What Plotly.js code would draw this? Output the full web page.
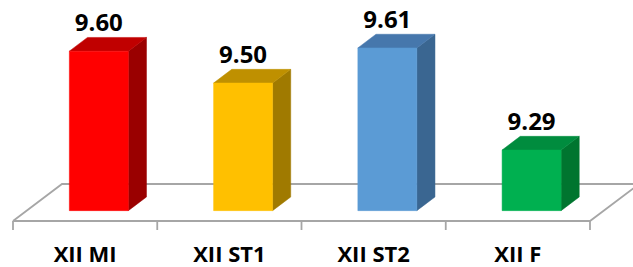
<!DOCTYPE html>
<html>
<head>
<meta charset="utf-8">
<script src="https://cdn.plot.ly/plotly-3.0.1.min.js"></script>
<style>
html,body{margin:0;padding:0;background:#fff;}
#chart{width:633px;height:267px;}
</style>
</head>
<body>
<div id="chart"></div>
<script>
// ---- data ----
const categories = ['XII MI', 'XII ST1', 'XII ST2', 'XII F'];
const values = [9.60, 9.50, 9.61, 9.29];
const valueLabels = ['9.60', '9.50', '9.61', '9.29'];
const frontColors = ['#FF0000', '#FFC000', '#5B9BD5', '#00B050'];
const topColors = ['#C00000', '#BF9000', '#4677AC', '#008C3E'];
const sideColors = ['#9A0000', '#A07A00', '#3A6691', '#00752F'];
const axisBase = 9.10;

// ---- pseudo-3D projection (depth z: 0 front .. 1 back) ----
const depthX = 0.3397;   // category units per unit depth
const depthY = 0.116;    // value units per unit depth
const halfW = 0.2045;
const zFront = 0.28, zBack = 0.65;
function P(c, z, v) { return [c + z * depthX, v + z * depthY]; }
function poly(pts, color, lineColor) {
  const xs = pts.map(p => p[0]), ys = pts.map(p => p[1]);
  xs.push(xs[0]); ys.push(ys[0]);
  return {
    type: 'scatter', mode: 'lines', x: xs, y: ys, fill: 'toself',
    fillcolor: color, line: {color: lineColor || color, width: lineColor ? 1.8 : 0.5},
    hoverinfo: 'skip', showlegend: false
  };
}

const traces = [];
const n = categories.length;
const left = -0.5, right = n - 0.5;
// floor
traces.push(poly([P(left, 0, axisBase), P(right, 0, axisBase), P(right, 1, axisBase), P(left, 1, axisBase)], '#FFFFFF', '#A6A6A6'));
// tick marks on front edge
const tx = [], ty = [];
for (let i = 0; i <= n; i++) {
  const b = left + i;
  tx.push(b, b, null);
  ty.push(axisBase, axisBase - 9 / 319, null);
}
traces.push({type: 'scatter', mode: 'lines', x: tx, y: ty, line: {color: '#A6A6A6', width: 1.8}, hoverinfo: 'skip', showlegend: false});

// bars
values.forEach((v, i) => {
  const c = i;
  traces.push(poly([P(c + halfW, zFront, axisBase), P(c + halfW, zBack, axisBase), P(c + halfW, zBack, v), P(c + halfW, zFront, v)], sideColors[i]));
  traces.push(poly([P(c - halfW, zFront, v), P(c + halfW, zFront, v), P(c + halfW, zBack, v), P(c - halfW, zBack, v)], topColors[i]));
  traces.push(poly([P(c - halfW, zFront, axisBase), P(c + halfW, zFront, axisBase), P(c + halfW, zFront, v), P(c - halfW, zFront, v)], frontColors[i]));
});

// value labels
traces.push({
  type: 'scatter', mode: 'text',
  x: values.map((v, i) => P(i, zFront, v)[0]),
  y: values.map((v, i) => P(i, zBack, v)[1] + 0.5 / 319),
  text: valueLabels, textposition: 'top center',
  textfont: {family: 'Open Sans, sans-serif', size: 24, color: '#000', weight: 'bold'},
  hoverinfo: 'skip', showlegend: false, cliponaxis: false
});
// category labels
traces.push({
  type: 'scatter', mode: 'text',
  x: categories.map((c, i) => i),
  y: categories.map(() => axisBase - 35 / 319),
  text: categories, textposition: 'middle center',
  textfont: {family: 'Open Sans, sans-serif', size: 22, color: '#000', weight: 'bold'},
  hoverinfo: 'skip', showlegend: false, cliponaxis: false
});

const layout = {
  width: 633, height: 267,
  margin: {l: 0, r: 0, t: 0, b: 0},
  paper_bgcolor: '#FFFFFF', plot_bgcolor: '#FFFFFF',
  xaxis: {range: [-0.5 - 13 / 144.25, -0.5 + 620 / 144.25], visible: false, fixedrange: true},
  yaxis: {range: [axisBase - 46 / 319, axisBase + 221 / 319], visible: false, fixedrange: true},
  showlegend: false
};
Plotly.newPlot('chart', traces, layout, {staticPlot: true, displayModeBar: false});
</script>
</body>
</html>
